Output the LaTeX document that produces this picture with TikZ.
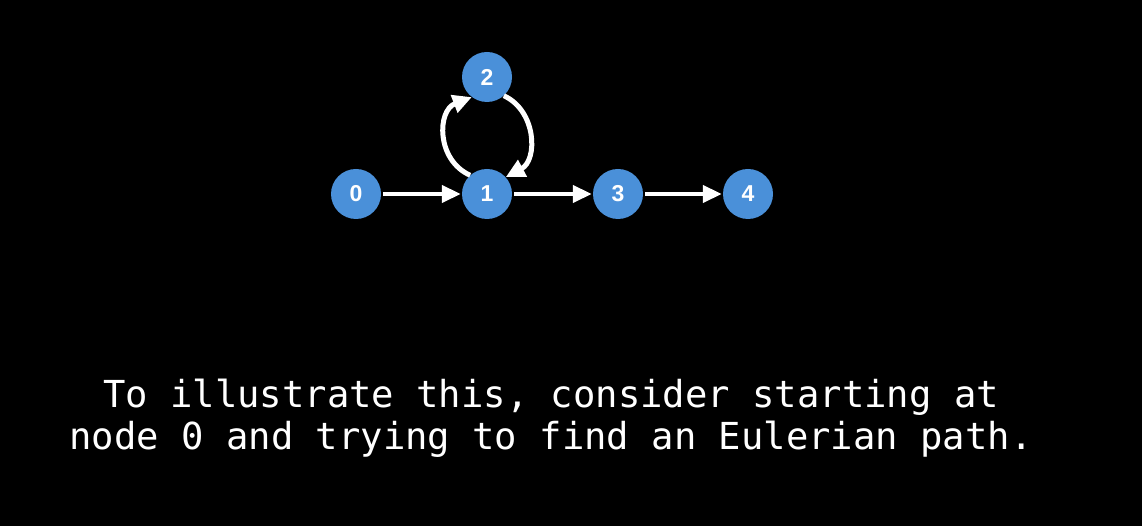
\documentclass[tikz,border=0pt]{standalone}
\usepackage{fontspec}
\setmainfont{Liberation Sans}
\setmonofont{DejaVu Sans Mono}
\usetikzlibrary{arrows.meta}
\definecolor{nodeblue}{HTML}{4A90D9}
\begin{document}
\begin{tikzpicture}[x=1pt,y=1pt,
  vert/.style={circle,fill=nodeblue,minimum size=50pt,inner sep=0pt,text=white,font=\fontsize{23}{23}\selectfont\bfseries},
  edge/.style={draw=white,line width=4pt,-{Triangle[length=19pt,width=17pt]},shorten >=1pt,shorten <=2pt},
  curvededge/.style={draw=white,line width=5pt,-{Triangle[length=19pt,width=18pt]}}]
\fill[black] (0,0) rectangle (1142,526);
\useasboundingbox (0,0) rectangle (1142,526);
\node[vert] (n0) at (356,332) {0};
\node[vert] (n1) at (487,332) {1};
\node[vert] (n2) at (487,449) {2};
\node[vert] (n3) at (618,332) {3};
\node[vert] (n4) at (748,332) {4};
\draw[edge] (n0) -- (n1);
\draw[edge] (n1) -- (n3);
\draw[edge] (n3) -- (n4);
\draw[curvededge] (n1.132) to[out=156,in=201,looseness=1.22] (n2.233);
\draw[curvededge] (n2.-48) to[out=-25,in=28,looseness=1.14] (n1.42);
\node[text=white,font=\ttfamily\fontsize{37.2}{42}\selectfont,align=center] (txt) at (551,108)
  {To illustrate this, consider starting at\\node 0 and trying to find an Eulerian path.};
\end{tikzpicture}
\end{document}
